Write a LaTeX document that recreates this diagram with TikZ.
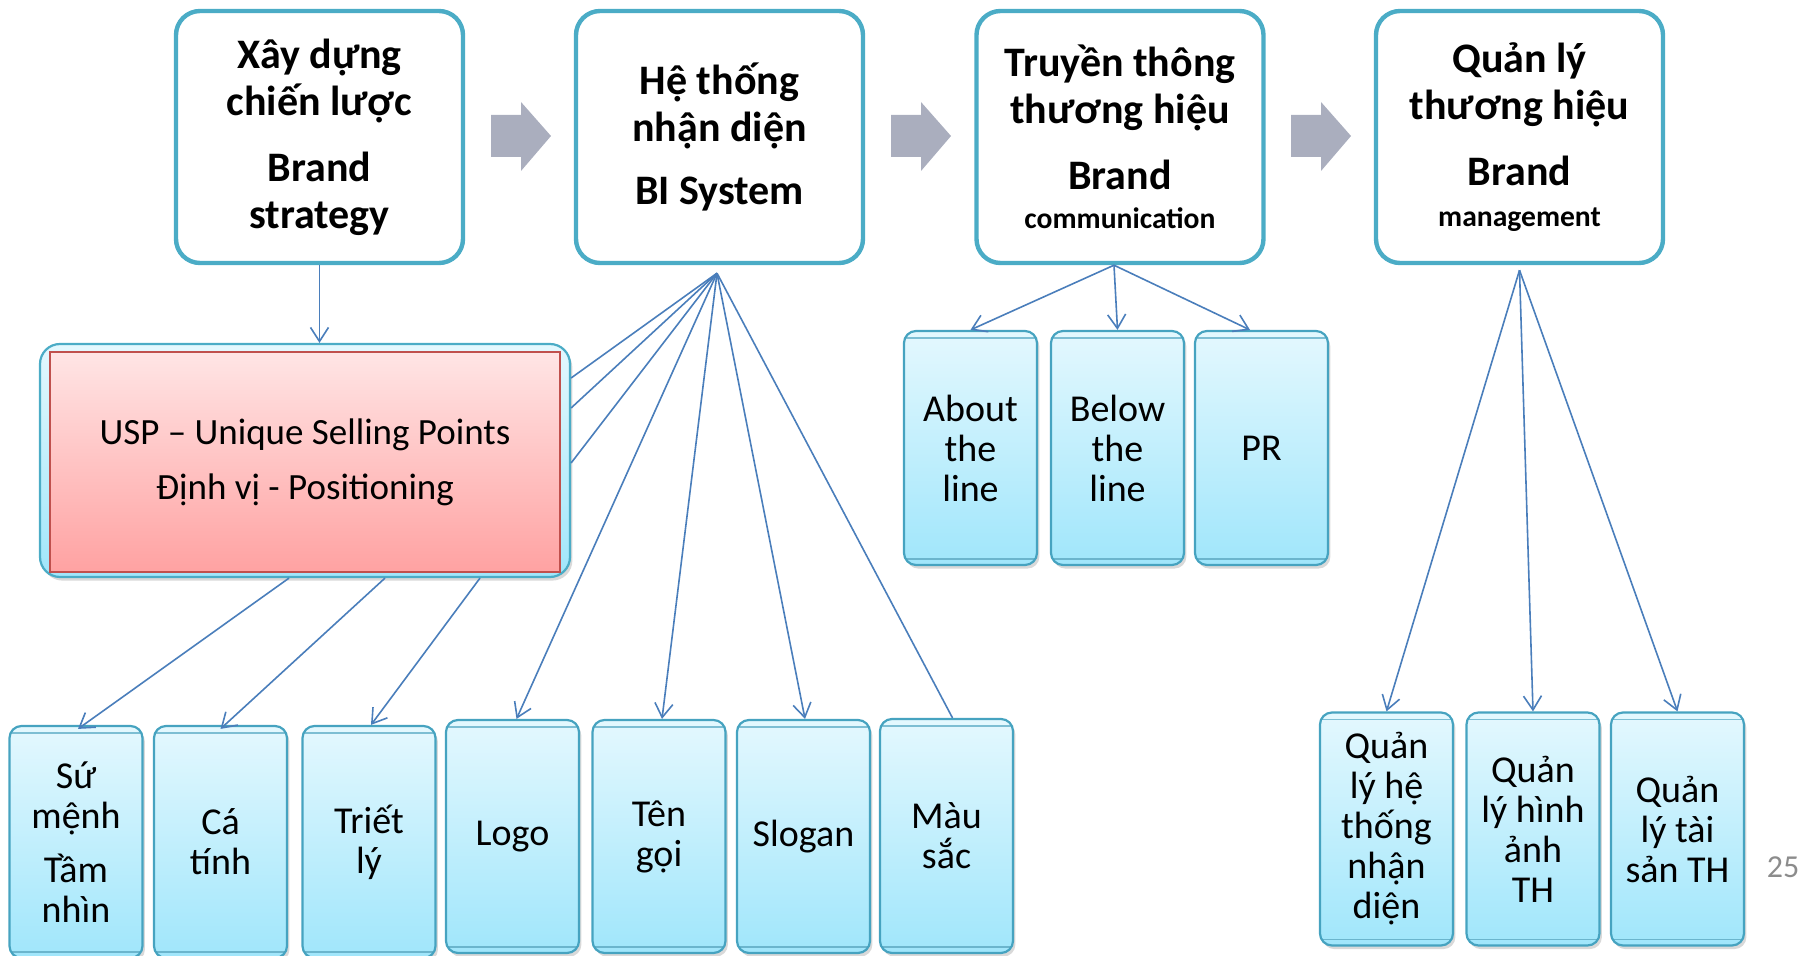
\documentclass[tikz,border=0pt]{standalone}
\usepackage{fontspec}
\setmainfont{Carlito}
\usetikzlibrary{arrows.meta,shadows,calc}

\definecolor{boxcyan}{RGB}{75,172,198}
\definecolor{leafedge}{RGB}{70,163,192}
\definecolor{leaftop}{RGB}{228,248,254}
\definecolor{leafbot}{RGB}{160,230,251}
\definecolor{linkblue}{RGB}{74,126,187}
\definecolor{arrowgray}{RGB}{170,174,190}
\definecolor{redtop}{RGB}{255,229,229}
\definecolor{redbot}{RGB}{255,162,162}
\definecolor{rededge}{RGB}{192,80,77}
\definecolor{pagegray}{RGB}{140,140,140}

\begin{document}
\begin{tikzpicture}[x=0.5pt,y=-0.5pt,
  topbox/.style={draw=boxcyan, line width=2.2pt, fill=white, rounded corners=12pt,
    minimum width=143.5pt, minimum height=126pt, inner sep=0pt, align=center,
    font=\fontsize{21}{23.5}\selectfont\bfseries},
  leaf/.style={draw=leafedge, line width=1.1pt, rounded corners=6pt,
    top color=leaftop, bottom color=leafbot, minimum width=66.5pt,
    inner sep=0pt, align=center, font=\fontsize{19}{20}\selectfont,
    drop shadow={shadow xshift=1.2pt, shadow yshift=-1.8pt, opacity=0.3},
    path picture={
      \draw[leafedge!70, line width=0.6pt]
        ([yshift=-3.5pt]path picture bounding box.north west) --
        ([yshift=-3.5pt]path picture bounding box.north east);
      \draw[leafedge!80, line width=0.6pt]
        ([yshift=3pt]path picture bounding box.south west) --
        ([yshift=3pt]path picture bounding box.south east);
    }},
  link/.style={draw=linkblue, line width=0.8pt},
  tolink/.style={link, -{Straight Barb[length=7pt,width=9pt,line width=0.8pt]}}
]
\useasboundingbox (0,0) rectangle (1806,956);

% top row: the four stages
\node[topbox] (b1) at (319.5,137) {Xây dựng\\chiến lược\\[9.5pt]Brand\\strategy};
\node[topbox] (b2) at (719.5,137) {Hệ thống\\nhận diện\\[8pt]BI System};
\node[topbox] (b3) at (1120,137) {Truyền thông\\thương hiệu\\[9.5pt]Brand\\[-4pt]{\fontsize{14.8}{17}\selectfont communication}};
\node[topbox] (b4) at (1519.5,137) {Quản lý\\thương hiệu\\[9.5pt]Brand\\[-3pt]{\fontsize{14.8}{17}\selectfont management}};

% grey block arrows between the stages
\foreach \s in {0,400,800}{
  \fill[arrowgray, shift={(\s,0)}] (491,115) -- (521,115) -- (521,102) -- (551,136)
    -- (521,171) -- (521,157) -- (491,157) -- cycle;
}

% USP / positioning block
\node[draw=boxcyan, line width=1.1pt, rounded corners=10pt, top color=leaftop,
  bottom color=leafbot, minimum width=265pt, minimum height=116.5pt, inner sep=0pt,
  drop shadow={shadow xshift=1.2pt, shadow yshift=-1.8pt, opacity=0.3}]
  (usp) at (305,460.5) {};
\node[draw=rededge, line width=1.1pt, top color=redtop, bottom color=redbot,
  minimum width=255pt, minimum height=110pt, inner sep=0pt, align=center,
  font=\fontsize{18.5}{27.5}\selectfont] (uspin) at (305,462)
  {USP – Unique Selling Points\\Định vị - Positioning};

% bottom row: strategy and identity elements
\node[leaf, minimum height=116pt] (sm) at (76,842) {Sứ\\mệnh\\[7pt]Tầm\\nhìn};
\node[leaf, minimum height=116pt] (ct) at (220.5,842) {Cá\\tính};
\node[leaf, minimum height=116pt] (tl) at (369,842) {Triết\\lý};
\node[leaf, minimum height=116.5pt] (logo) at (512.5,836.5) {Logo};
\node[leaf, minimum height=116.5pt] (ten) at (659,836.5) {Tên\\gọi};
\node[leaf, minimum height=116.5pt] (slogan) at (803.5,836.5) {Slogan};
\node[leaf, minimum height=117pt] (mau) at (946.5,836) {Màu\\sắc};

% communication channels
\node[leaf, minimum height=117pt] (about) at (970.5,448) {About\\the\\line};
\node[leaf, minimum height=117pt] (below) at (1117.5,448) {Below\\the\\line};
\node[leaf, minimum height=117pt] (pr) at (1261.5,448) {PR};

% brand management tasks
\node[leaf, minimum height=116.5pt] (q1) at (1386.5,829) {Quản\\lý hệ\\thống\\nhận\\diện};
\node[leaf, minimum height=116.5pt] (q2) at (1533,829) {Quản\\lý hình\\ảnh\\TH};
\node[leaf, minimum height=116.5pt] (q3) at (1677.5,829) {Quản\\lý tài\\sản TH};

% page number
\node[text=pagegray, font=\fontsize{16}{19}\selectfont, inner sep=0pt] (page) at (1783,867) {25};

% connectors
\draw[tolink] (b1.south) -- (b1.south |- usp.north);

\coordinate (u1) at ([xshift=-8pt]usp.south);
\coordinate (u2) at ([xshift=40pt]usp.south);
\coordinate (u3) at ([xshift=87.5pt]usp.south);
\draw[tolink] (u1) -- ([xshift=1pt,yshift=-2pt]sm.north);
\draw[tolink] (u2) -- ([yshift=-2pt]ct.north);
\draw[tolink] (u3) -- ([xshift=1pt]tl.north);

\coordinate (bi) at ([xshift=-1.25pt,yshift=-4pt]b2.south);
\draw[link] (bi) -- ([yshift=41.25pt]usp.east);
\draw[link] (bi) -- ([yshift=26.25pt]usp.east);
\draw[link] (bi) -- ([yshift=-1.25pt]usp.east);
\draw[tolink] (bi) -- ([xshift=2pt]logo.north);
\draw[tolink] (bi) -- ([xshift=1.5pt]ten.north);
\draw[tolink] (bi) -- ([xshift=0.75pt]slogan.north);
\draw[link] (bi) -- ([xshift=3pt]mau.north);

\coordinate (bc) at ([xshift=-3pt]b3.south);
\draw[tolink] (bc) -- (about.north);
\draw[tolink] (bc) -- (below.north);
\draw[tolink] (bc) -- ([xshift=-5.75pt]pr.north);

\coordinate (bm) at ([yshift=-2.5pt]b4.south);
\draw[tolink] (bm) -- (q1.north);
\draw[tolink] (bm) -- (q2.north);
\draw[tolink] (bm) -- (q3.north);
\end{tikzpicture}
\end{document}
